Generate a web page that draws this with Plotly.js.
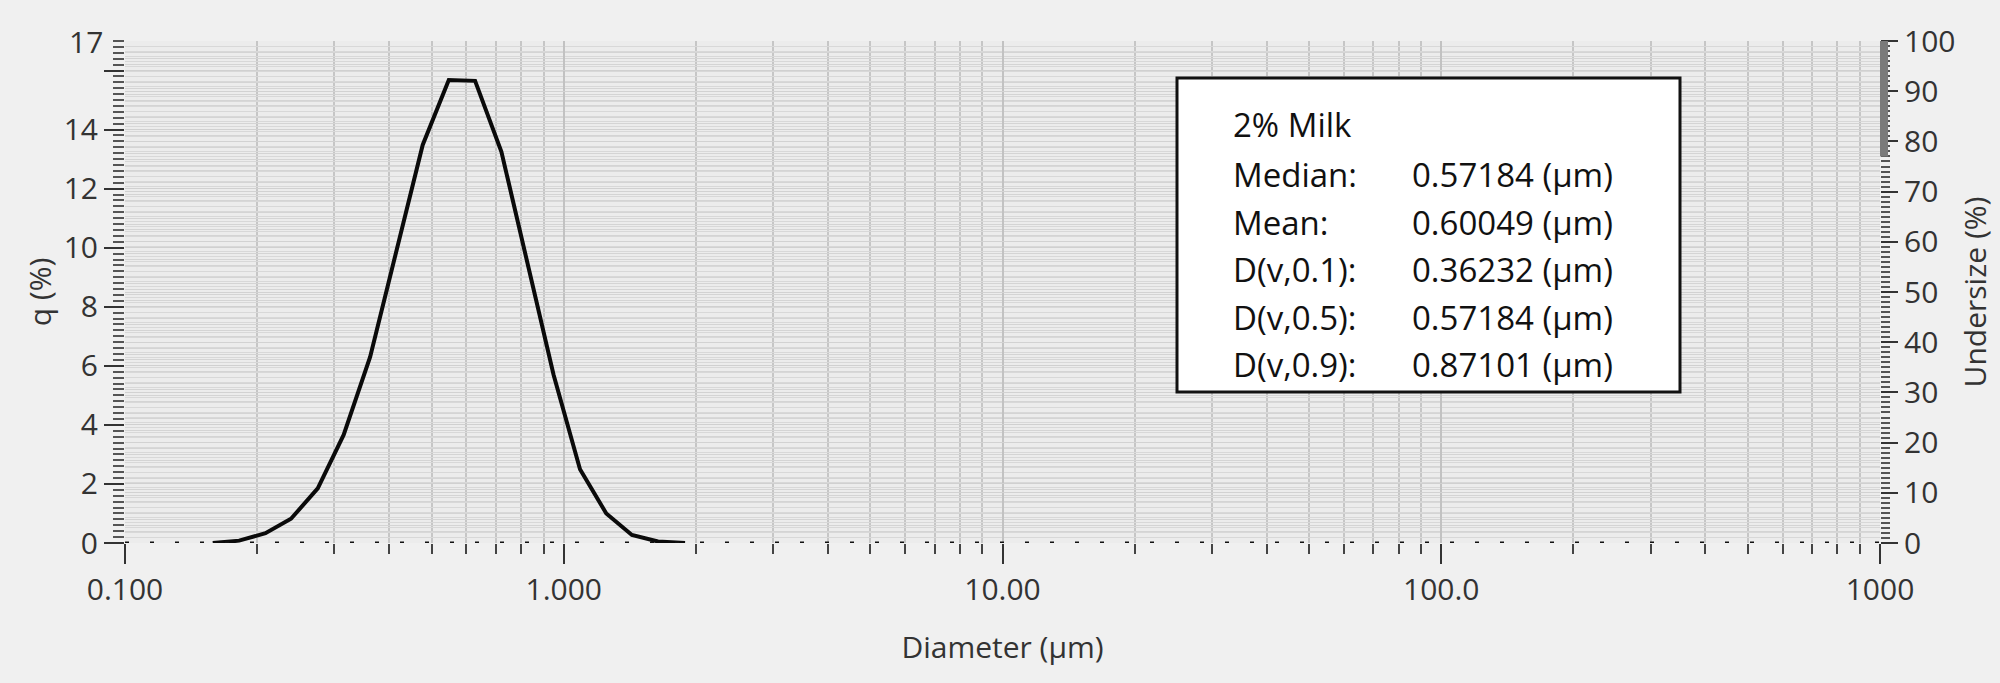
<!DOCTYPE html>
<html>
<head>
<meta charset="utf-8">
<script src="https://cdn.plot.ly/plotly-3.0.1.min.js"></script>
<style>
  html, body { margin: 0; padding: 0; background: #f0f0f0; }
  #chart { width: 2000px; height: 683px; }
</style>
</head>
<body>
<div id="chart"></div>
<script>
// ---- data ----
const diameters = [0.1585, 0.182, 0.209, 0.239, 0.275, 0.315, 0.362, 0.415, 0.477, 0.547,
                   0.628, 0.721, 0.826, 0.948, 1.089, 1.25, 1.43, 1.64, 1.89];
const qValues   = [0, 0.08, 0.33, 0.82, 1.85, 3.66, 6.3, 9.8, 13.48, 15.68,
                   15.65, 13.25, 9.45, 5.7, 2.5, 1.0, 0.27, 0.05, 0];

const baselineX = [0.1, 1000];
const baselineY = [0, 0];

const xTickVals = [0.1, 1, 10, 100, 1000];
const xTickText = ['0.100', '1.000', '10.00', '100.0', '1000'];
const xMinorVals = [0.2, 0.3, 0.4, 0.5, 0.6, 0.7, 0.8, 0.9,
                    2, 3, 4, 5, 6, 7, 8, 9,
                    20, 30, 40, 50, 60, 70, 80, 90,
                    200, 300, 400, 500, 600, 700, 800, 900];
const yTickVals = [0, 2, 4, 6, 8, 10, 12, 14, 16];
const yTickText = ['0', '2', '4', '6', '8', '10', '12', '14', ''];
const yTopLabel = 17;

const legendTitle = '2% Milk';
const statLabels = ['Median:', 'Mean:', 'D(v,0.1):', 'D(v,0.5):', 'D(v,0.9):'];
const statValues = ['0.57184 (µm)', '0.60049 (µm)', '0.36232 (µm)', '0.57184 (µm)', '0.87101 (µm)'];

// ---- layout helpers ----
const FONT = 'Open Sans, Noto Sans, DejaVu Sans, sans-serif';
const W = 2000, H = 683;
const M = {l: 125, r: 120, t: 41, b: 140};
const PW = W - M.l - M.r, PH = H - M.t - M.b;
const px = x => (x - M.l) / PW;
const py = y => (M.t + PH - y) / PH;

const traces = [
  {
    x: baselineX, y: baselineY, yaxis: 'y2', mode: 'lines', type: 'scatter',
    line: {color: '#111', width: 3, dash: '4px,21px'}, hoverinfo: 'skip', showlegend: false
  },
  {
    x: diameters, y: qValues, mode: 'lines', type: 'scatter',
    line: {color: '#0a0a0a', width: 4}, showlegend: false
  }
];

const annotations = [];
const rowY = [125, 174.5, 222, 269.5, 317, 364.5];
annotations.push({xref: 'paper', yref: 'paper', x: px(1231), y: py(rowY[0]), xanchor: 'left', yanchor: 'middle',
  text: legendTitle, showarrow: false, font: {family: FONT, size: 33, color: '#111'}});
statLabels.forEach((lab, i) => {
  annotations.push({xref: 'paper', yref: 'paper', x: px(1231), y: py(rowY[i + 1]), xanchor: 'left', yanchor: 'middle',
    text: lab, showarrow: false, font: {family: FONT, size: 33, color: '#111'}});
  annotations.push({xref: 'paper', yref: 'paper', x: px(1410), y: py(rowY[i + 1]), xanchor: 'left', yanchor: 'middle',
    text: statValues[i], showarrow: false, font: {family: FONT, size: 33, color: '#111'}});
});
annotations.push({xref: 'paper', yref: 'y', x: 0, y: yTopLabel, xanchor: 'right', yanchor: 'middle', xshift: -20,
  text: String(yTopLabel), showarrow: false, font: {family: FONT, size: 30, color: '#333'}});

const layout = {
  width: W, height: H,
  margin: M,
  paper_bgcolor: '#f0f0f0',
  plot_bgcolor: '#ececec',
  showlegend: false,
  font: {family: FONT, size: 30, color: '#333'},
  xaxis: {
    type: 'log', range: [-1, 3],
    tickmode: 'array', tickvals: xTickVals, ticktext: xTickText,
    ticks: 'outside', ticklen: 20, tickwidth: 2, tickcolor: '#333',
    showgrid: true, gridcolor: '#c2c2c2', gridwidth: 2,
    showline: false, zeroline: false,
    tickfont: {family: FONT, size: 30, color: '#333'},
    minor: {tickmode: 'array', tickvals: xMinorVals, ticks: 'outside', ticklen: 10, tickwidth: 2,
            tickcolor: '#444', showgrid: true, gridcolor: '#c6c6c6', gridwidth: 2},
    title: {text: 'Diameter (µm)', font: {family: FONT, size: 30, color: '#333'}, standoff: 28}
  },
  yaxis: {
    range: [0, 17],
    tickmode: 'array', tickvals: yTickVals, ticktext: yTickText,
    ticks: 'outside', ticklen: 20, tickwidth: 2, tickcolor: '#333',
    showgrid: true, gridcolor: '#d0d0d0', gridwidth: 1,
    zeroline: false, showline: false,
    tickfont: {family: FONT, size: 30, color: '#333'},
    minor: {dtick: 0.2, ticks: 'outside', ticklen: 11, tickwidth: 2, tickcolor: '#555',
            showgrid: true, gridcolor: '#d4d4d4', gridwidth: 1},
    title: {text: 'q (%)', font: {family: FONT, size: 30, color: '#333'}, standoff: 3}
  },
  yaxis2: {
    overlaying: 'y', side: 'right', anchor: 'x', range: [0, 100],
    tickmode: 'linear', tick0: 0, dtick: 10,
    ticks: 'outside', ticklen: 17, tickwidth: 2, tickcolor: '#333',
    showgrid: true, gridcolor: '#d2d2d2', gridwidth: 1,
    zeroline: false, showline: false,
    tickfont: {family: FONT, size: 30, color: '#333'},
    minor: {dtick: 1, ticks: 'outside', ticklen: 9, tickwidth: 2, tickcolor: '#555',
            showgrid: true, gridcolor: '#d8d8d8', gridwidth: 1},
    title: {text: 'Undersize (%)', font: {family: FONT, size: 30, color: '#333'}, standoff: 10}
  },
  shapes: [
    {type: 'rect', xref: 'paper', yref: 'y2', xsizemode: 'pixel', xanchor: 1, x0: 0, x1: 8,
     y0: 77, y1: 100, fillcolor: '#7a7a7a', line: {width: 0}, layer: 'above'},
    {type: 'rect', xref: 'paper', yref: 'paper', x0: px(1177), x1: px(1680), y0: py(392), y1: py(78),
     fillcolor: '#ffffff', line: {color: '#111', width: 3}, layer: 'above'}
  ],
  annotations: annotations
};

Plotly.newPlot('chart', traces, layout, {staticPlot: true, displayModeBar: false});
</script>
</body>
</html>
